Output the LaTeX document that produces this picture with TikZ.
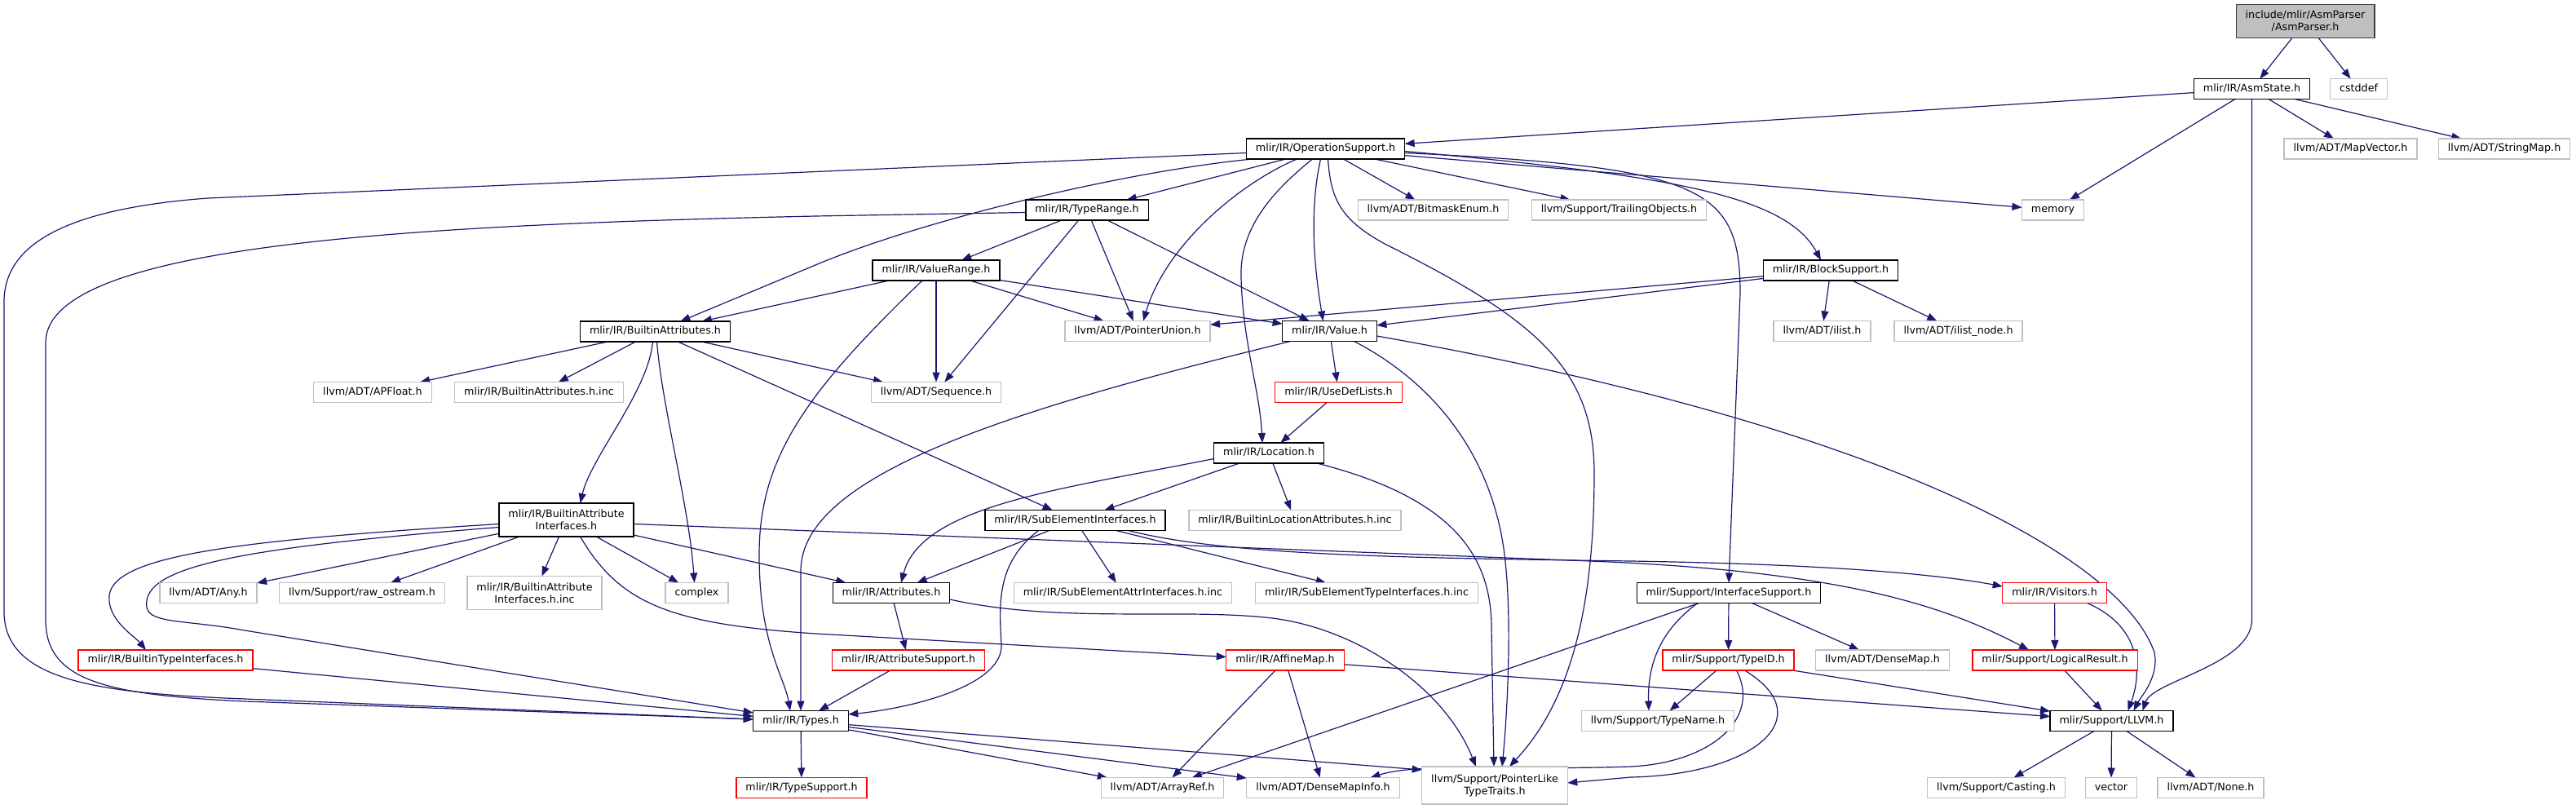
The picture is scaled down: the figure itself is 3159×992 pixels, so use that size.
\documentclass[tikz,border=0pt]{standalone}
\usepackage{fontspec}
\setmainfont{DejaVu Sans}
\usetikzlibrary{arrows.meta}
\newcommand\nodefont{\fontsize{12.7}{15}\selectfont}
\definecolor{edgec}{RGB}{25,25,112}
\definecolor{graybd}{RGB}{191,191,191}
\definecolor{rootfill}{RGB}{191,191,191}
\definecolor{rootbd}{RGB}{64,64,64}
\definecolor{redbd}{RGB}{255,0,0}
\pgfdeclarelayer{bg}
\pgfsetlayers{bg,main}
\tikzset{
 nbase/.style={rectangle, draw, fill=white, line width=1.3pt, inner xsep=11.5pt, inner ysep=2pt, outer sep=0pt, minimum height=25pt, align=center, font=\nodefont},
 oneline/.style={text height=9.5pt, text depth=2.8pt},
 twoline/.style={minimum height=41pt},
 docb/.style={nbase, draw=black},
 extb/.style={nbase, draw=graybd},
 trb/.style={nbase, draw=redbd},
 rootb/.style={nbase, draw=rootbd, fill=rootfill},
 docn/.style={docb, oneline},
 extn/.style={extb, oneline},
 trn/.style={trb, oneline},
 e/.style={draw=edgec, line width=1.2pt, -{Triangle[length=12pt,width=9pt]}}
}
\begin{document}
\begin{tikzpicture}[x=1pt,y=-1pt]
\useasboundingbox (0,0) rectangle (3159,992);
\node[rootb,twoline] (ap) at (2827,26) {include/mlir/AsmParser\\/AsmParser.h};
\node[docn] (as) at (2761.5,109) {mlir/IR/AsmState.h};
\node[extn] (cst) at (2892.5,109) {cstddef};
\node[docn] (os) at (1625.5,182.5) {mlir/IR/OperationSupport.h};
\node[extn] (mv) at (2882.5,182.5) {llvm/ADT/MapVector.h};
\node[extn] (sm) at (3071,182.5) {llvm/ADT/StringMap.h};
\node[docn] (tr) at (1333,257.5) {mlir/IR/TypeRange.h};
\node[extn] (be) at (1757.5,257.5) {llvm/ADT/BitmaskEnum.h};
\node[extn] (to) at (1985.5,257.5) {llvm/Support/TrailingObjects.h};
\node[extn] (mem) at (2517.5,257.5) {memory};
\node[docn] (vr) at (1148,331.5) {mlir/IR/ValueRange.h};
\node[docn] (bs) at (2245,331.5) {mlir/IR/BlockSupport.h};
\node[extn] (pu) at (1395,406) {llvm/ADT/PointerUnion.h};
\node[docn] (val) at (1630.5,406) {mlir/IR/Value.h};
\node[extn] (il) at (2234.5,406) {llvm/ADT/ilist.h};
\node[extn] (iln) at (2401.5,406) {llvm/ADT/ilist\_node.h};
\node[docn] (ba) at (803.5,406.5) {mlir/IR/BuiltinAttributes.h};
\node[extn] (apf) at (457,481) {llvm/ADT/APFloat.h};
\node[extn] (bainc) at (661,481) {mlir/IR/BuiltinAttributes.h.inc};
\node[extn] (seq) at (1148,481) {llvm/ADT/Sequence.h};
\node[trn] (udl) at (1641.5,481) {mlir/IR/UseDefLists.h};
\node[docn] (loc) at (1556,555.5) {mlir/IR/Location.h};
\node[docn] (sei) at (1318.5,638) {mlir/IR/SubElementInterfaces.h};
\node[extn] (blai) at (1588,638) {mlir/IR/BuiltinLocationAttributes.h.inc};
\node[docb,twoline] (bai) at (694.5,637.5) {mlir/IR/BuiltinAttribute\\Interfaces.h};
\node[extn] (any) at (255.5,727) {llvm/ADT/Any.h};
\node[extn] (ros) at (444,727) {llvm/Support/raw\_ostream.h};
\node[extb,twoline] (baiinc) at (655.5,727) {mlir/IR/BuiltinAttribute\\Interfaces.h.inc};
\node[extn] (cpx) at (854.5,727) {complex};
\node[docn] (att) at (1093,727) {mlir/IR/Attributes.h};
\node[extn] (seai) at (1377,727) {mlir/IR/SubElementAttrInterfaces.h.inc};
\node[extn] (seti) at (1676,727) {mlir/IR/SubElementTypeInterfaces.h.inc};
\node[docn] (ifs) at (2120,727) {mlir/Support/InterfaceSupport.h};
\node[trn] (vis) at (2519.5,727) {mlir/IR/Visitors.h};
\node[trn] (bti) at (203,809.5) {mlir/IR/BuiltinTypeInterfaces.h};
\node[trn] (asup) at (1114,809.5) {mlir/IR/AttributeSupport.h};
\node[trn] (am) at (1576,809.5) {mlir/IR/AffineMap.h};
\node[trn] (tid) at (2119.5,809.5) {mlir/Support/TypeID.h};
\node[extn] (dm) at (2308.5,809.5) {llvm/ADT/DenseMap.h};
\node[trn] (lr) at (2520,809.5) {mlir/Support/LogicalResult.h};
\node[docn] (types) at (982,884) {mlir/IR/Types.h};
\node[extn] (tn) at (2033,884) {llvm/Support/TypeName.h};
\node[docn] (llvm) at (2589.5,884) {mlir/Support/LLVM.h};
\node[trn] (ts) at (983,966) {mlir/IR/TypeSupport.h};
\node[extn] (ar) at (1425.5,966) {llvm/ADT/ArrayRef.h};
\node[extn] (dmi) at (1622.5,966) {llvm/ADT/DenseMapInfo.h};
\node[extb,minimum height=46pt] (plt) at (1833,963) {llvm/Support/PointerLike\\TypeTraits.h};
\node[extn] (cast) at (2448,966) {llvm/Support/Casting.h};
\node[extn] (vec) at (2589,966) {vector};
\node[extn] (none) at (2711,966) {llvm/ADT/None.h};

\begin{pgfonlayer}{bg}
% AsmParser
\draw[e] (ap) -- (as);
\draw[e] (ap) -- (cst);
% AsmState
\draw[e] (as) -- (os);
\draw[e] (as) -- (mem);
\draw[e] (as) -- (mv);
\draw[e] (as) -- (sm);
\draw[e] (as.south) -- (2761.5,760) .. controls (2761,815) and (2640,835) .. ([xshift=38]llvm.north);
% OperationSupport
\draw[e] (os) -- (tr);
\draw[e] (os) -- (be);
\draw[e] (os) -- (to);
\draw[e] (os) -- (mem);
\draw[e] ([yshift=-3]os.east) .. controls (2050,215) and (2190,240) .. ([xshift=-12]bs.north);
\draw[e] ([yshift=-5]os.east) .. controls (2090,205) and (2134,230) .. (2134,360) -- (ifs.north);
\draw[e] ([yshift=-5]os.west) -- (255,243) .. controls (80,256) and (5,300) .. (5,370) -- (5,750) .. controls (5,835) and (120,850) .. (300,857) -- ([yshift=2]types.west);
\draw[e] ([xshift=8]os.south west) .. controls (1380,210) and (1130,270) .. (1000,325) -- ([xshift=31]ba.north);
\draw[e] ([xshift=-35]os.south) .. controls (1520,225) and (1430,300) .. ([xshift=7]pu.north);
\draw[e] ([xshift=-16]os.south) .. controls (1560,235) and (1520,280) .. (1522,340) .. controls (1524,420) and (1545,480) .. ([xshift=-8]loc.north);
\draw[e] ([xshift=-6]os.south) .. controls (1605,260) and (1612,330) .. ([xshift=-8]val.north);
\draw[e] ([xshift=3]os.south) .. controls (1632,240) and (1640,268) .. (1700,300) .. controls (1880,390) and (1955,450) .. (1955,580) .. controls (1955,720) and (1935,850) .. ([xshift=18]plt.north);
% TypeRange
\draw[e] (tr) -- (vr);
\draw[e] (tr) -- (pu);
\draw[e] (tr) -- (seq);
\draw[e] (tr) -- (val);
\draw[e] ([yshift=-3]tr.west) -- (1000,265) .. controls (500,276) and (56,300) .. (56,420) -- (56,760) .. controls (56,835) and (130,852) .. (300,860) -- ([yshift=2]types.west);
% ValueRange
\draw[e] (vr) -- (ba);
\draw[e] (vr) -- (seq);
\draw[e] (vr) -- (pu);
\draw[e] (vr) -- (val);
\draw[e] ([xshift=-17]vr.south) .. controls (990,480) and (931,560) .. (931,680) .. controls (931,790) and (962,830) .. ([xshift=-13]types.north);
% Value
\draw[e] (val) -- (udl);
\draw[e] ([xshift=-48]val.south) .. controls (1250,500) and (982,580) .. (982,700) -- (types.north);
\draw[e] ([xshift=30]val.south) .. controls (1760,470) and (1830,560) .. (1845,680) .. controls (1855,760) and (1848,880) .. ([xshift=9]plt.north);
\draw[e] ([yshift=-6]val.east) .. controls (2300,520) and (2600,680) .. (2642,800) .. controls (2648,830) and (2625,855) .. ([xshift=27]llvm.north);
% UseDefLists, Location
\draw[e] (udl) -- (loc);
\draw[e] ([yshift=-7]loc.west) .. controls (1300,600) and (1130,620) .. ([xshift=12]att.north);
\draw[e] (loc) -- (sei);
\draw[e] (loc) -- (blai);
\draw[e] ([xshift=59]loc.south) .. controls (1780,610) and (1829,680) .. (1829,770) -- ([xshift=-1]plt.north);
% BuiltinAttributes
\draw[e] (ba) -- (apf);
\draw[e] (ba) -- (bainc);
\draw[e] ([xshift=-3]ba.south) .. controls (795,480) and (725,560) .. ([xshift=17]bai.north);
\draw[e] ([xshift=2]ba.south) .. controls (812,500) and (845,620) .. ([xshift=-3]cpx.north);
\draw[e] (ba) -- (sei);
\draw[e] ([xshift=57]ba.south) -- ([xshift=-65]seq.north);
% BuiltinAttributeInterfaces
\draw[e] (bai) -- (any);
\draw[e] (bai) -- (ros);
\draw[e] (bai) -- (baiinc);
\draw[e] (bai) -- (cpx);
\draw[e] (bai) -- (att);
\draw[e] ([xshift=17]bai.south) .. controls (760,740) and (820,765) .. (1000,777) -- ([yshift=4]am.west);
\draw[e] ([yshift=-5]bai.east) -- (1950,688) .. controls (2250,700) and (2380,740) .. ([xshift=-32]lr.north);
\draw[e] ([yshift=-5]bai.west) .. controls (300,662) and (140,680) .. (134,730) .. controls (131,760) and (165,780) .. ([xshift=-24]bti.north);
\draw[e] ([yshift=-9]bai.west) .. controls (290,672) and (172,695) .. (180,745) .. controls (184,765) and (230,760) .. (300,773) -- ([yshift=10]types.west);
% SubElementInterfaces
\draw[e] ([xshift=65]sei.south) .. controls (1500,680) and (1700,684) .. (2000,688) .. controls (2250,692) and (2380,705) .. ([yshift=8]vis.west);
\draw[e] (sei) -- (att);
\draw[e] ([xshift=-45]sei.south) .. controls (1222,690) and (1225,740) .. (1228,790) .. controls (1231,840) and (1120,868) .. ([yshift=8]types.east);
\draw[e] (sei) -- (seai);
\draw[e] (sei) -- (seti);
% Attributes
\draw[e] (att) -- (asup);
\draw[e] ([yshift=-8]att.east) .. controls (1300,765) and (1450,745) .. (1560,758) .. controls (1660,770) and (1770,840) .. ([xshift=-23]plt.north);
\draw[e] (asup) -- (types);
\draw[e] (bti) -- (types);
% AffineMap
\draw[e] (am) -- (ar);
\draw[e] (am) -- (dmi);
\draw[e] (am) -- (llvm);
% Types
\draw[e] (types) -- (ts);
\draw[e] (types) -- (ar);
\draw[e] (types) -- (dmi);
\draw[e] (types) -- ([yshift=19]plt.west);
% InterfaceSupport
\draw[e] (ifs) -- (ar);
\draw[e] ([xshift=-38]ifs.south) .. controls (2040,770) and (2020,810) .. ([xshift=-11]tn.north);
\draw[e] (ifs) -- (tid);
\draw[e] (ifs) -- (dm);
% Visitors, LogicalResult
\draw[e] (vis) -- (lr);
\draw[e] ([xshift=40]vis.south) .. controls (2630,770) and (2625,830) .. ([xshift=20]llvm.north);
\draw[e] (lr) -- (llvm);
% TypeID
\draw[e] (tid) -- (tn);
\draw[e] (tid) -- (llvm);
\draw[e] ([xshift=10]tid.south) .. controls (2160,880) and (2100,935) .. (2000,940) .. controls (1850,945) and (1740,935) .. ([xshift=58]dmi.north);
\draw[e] ([xshift=20]tid.south) .. controls (2235,880) and (2150,950) .. (2000,953) -- ([yshift=3]plt.east);
% LLVM
\draw[e] (llvm) -- (cast);
\draw[e] (llvm) -- (vec);
\draw[e] (llvm) -- (none);
% BlockSupport
\draw[e] (bs) -- (pu);
\draw[e] (bs) -- (val);
\draw[e] (bs) -- (il);
\draw[e] (bs) -- (iln);
\end{pgfonlayer}
\end{tikzpicture}
\end{document}
